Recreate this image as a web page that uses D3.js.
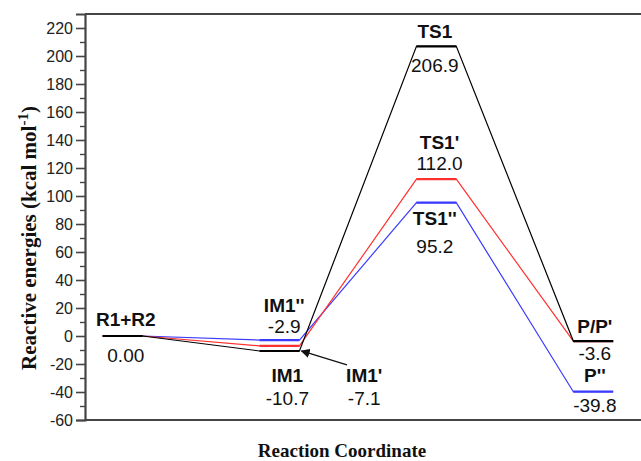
<!DOCTYPE html>
<html>
<head>
<meta charset="utf-8">
<script src="https://cdn.jsdelivr.net/npm/d3@7"></script>
<style>
  body { margin: 0; background: #fff; }
  text { font-family: "Liberation Sans", Arial, sans-serif; }
</style>
</head>
<body>
<script>
// stage index along the reaction coordinate: R1+R2, IM, TS, P
var stages = [0, 1, 2, 3];
var blackEnergies = [0, -10.7, 206.9, -3.6];
var redEnergies = [0, -7.1, 112.0, -3.6];
var blueEnergies = [0, -2.9, 95.2, -39.8];
var seriesColors = ["#3b3bff", "#ff3030", "#000000"];

var yTicks = [-60, -40, -20, 0, 20, 40, 60, 80, 100, 120, 140, 160, 180, 200, 220];
var yMinorTicks = [-50, -30, -10, 10, 30, 50, 70, 90, 110, 130, 150, 170, 190, 210];

var levelNames = ["R1+R2", "IM1''", "IM1", "IM1'", "TS1", "TS1'", "TS1''", "P/P'", "P''"];
var levelStages = [0, 1, 1, 1, 2, 2, 2, 3, 3];
var levelValues = [0, -2.9, -10.7, -7.1, 206.9, 112.0, 95.2, -3.6, -39.8];
var levelTexts = ["0.00", "-2.9", "-10.7", "-7.1", "206.9", "112.0", "95.2", "-3.6", "-39.8"];

function init() {
    var w = 641, h = 461;
    var halfLevel = 0.127;

    var svg = d3.select("body").append("svg")
        .attr("width", w)
        .attr("height", h);

    var x = d3.scaleLinear().domain([-0.24, 3.4]).range([85, 656]);
    var y = d3.scaleLinear().domain([-60, 230]).range([420, 14]);

    // frame (top and bottom)
    svg.append("line").attr("x1", 85).attr("x2", w).attr("y1", y(230)).attr("y2", y(230))
        .attr("stroke", "#444").attr("stroke-width", 2);
    svg.append("line").attr("x1", 85).attr("x2", w).attr("y1", y(-60)).attr("y2", y(-60))
        .attr("stroke", "#444").attr("stroke-width", 2);

    // y axis
    var yAxis = d3.axisLeft(y).tickValues(yTicks).tickSize(9).tickPadding(3)
        .tickFormat(function(d) { return String(d); });
    var ga = svg.append("g").attr("transform", "translate(85,0)").call(yAxis);
    ga.select(".domain").attr("stroke", "#444").attr("stroke-width", 2.2);
    ga.selectAll(".tick line").attr("stroke", "#444").attr("stroke-width", 1.6);
    ga.selectAll(".tick text").attr("font-size", 16)
        .attr("font-family", "Liberation Sans, Arial, sans-serif").attr("fill", "#222");
    svg.append("g").attr("transform", "translate(85,0)")
        .call(d3.axisLeft(y).tickValues(yMinorTicks).tickSize(5).tickFormat(""))
        .call(function(g) {
            g.select(".domain").remove();
            g.selectAll(".tick line").attr("stroke", "#444").attr("stroke-width", 1.4);
        });

    // series
    var allSeries = [blueEnergies, redEnergies, blackEnergies];
    var line = d3.line().x(function(d) { return x(d[0]); }).y(function(d) { return y(d[1]); });

    allSeries.forEach(function(vals, k) {
        var pts = [];
        stages.forEach(function(s, i) {
            pts.push([s - halfLevel, vals[i]]);
            pts.push([s + halfLevel, vals[i]]);
        });
        svg.append("path")
            .attr("d", line(pts))
            .attr("fill", "none")
            .attr("stroke", seriesColors[k])
            .attr("stroke-width", 1.2);
        svg.selectAll(null)
            .data(stages)
            .enter()
            .append("line")
            .attr("x1", function(s) { return x(s - halfLevel); })
            .attr("x2", function(s) { return x(s + halfLevel); })
            .attr("y1", function(s, i) { return y(vals[i]); })
            .attr("y2", function(s, i) { return y(vals[i]); })
            .attr("stroke", seriesColors[k])
            .attr("stroke-width", 2.2);
    });

    // label placement: stage offset (x units), name dy, value dy (px from level)
    var dxs = [0.02, 0.03, 0.05, 0.54, -0.01, 0.02, -0.01, 0.01, 0.01];
    var nameDy = [-10, -28, 31, 31, -8, -30, 22, -8, -10];
    var valDy = [26, -7, 54, 54, 26, -9, 50, 19, 20];

    levelNames.forEach(function(n, i) {
        var cx = x(levelStages[i] + dxs[i]);
        var cy = y(levelValues[i]);
        var ny = cy + nameDy[i], vy = cy + valDy[i];
        if (i == 3) { ny = y(levelValues[2]) + nameDy[i]; vy = y(levelValues[2]) + valDy[i]; }
        svg.append("text").attr("x", cx).attr("y", ny)
            .attr("text-anchor", "middle").attr("font-size", 19).attr("font-weight", "bold")
            .attr("fill", "#111").text(n);
        svg.append("text").attr("x", cx).attr("y", vy)
            .attr("text-anchor", "middle").attr("font-size", 19)
            .attr("fill", "#111").text(levelTexts[i]);
    });

    // arrow from IM1' label to its level
    svg.append("defs").append("marker")
        .attr("id", "arr").attr("viewBox", "0 0 10 10").attr("refX", 9).attr("refY", 5)
        .attr("markerWidth", 7).attr("markerHeight", 7).attr("orient", "auto")
        .append("path").attr("d", "M0,0L10,5L0,10z").attr("fill", "#111");
    svg.append("line")
        .attr("x1", x(1.43)).attr("y1", y(-7.1) + 19)
        .attr("x2", x(1 + halfLevel) + 2).attr("y2", y(-7.1) + 5)
        .attr("stroke", "#111").attr("stroke-width", 1.3)
        .attr("marker-end", "url(#arr)");

    // axis titles
    svg.append("text")
        .attr("x", 342).attr("y", 457)
        .attr("text-anchor", "middle")
        .style("font-family", "Liberation Serif, Times New Roman, serif")
        .attr("font-weight", "bold").attr("font-size", 19).attr("fill", "#111")
        .text("Reaction Coordinate");

    var yt = svg.append("text")
        .attr("transform", "translate(36,238) rotate(-90)")
        .attr("text-anchor", "middle")
        .style("font-family", "Liberation Serif, Times New Roman, serif")
        .attr("font-weight", "bold").attr("font-size", 21).attr("fill", "#111");
    yt.append("tspan").text("Reactive energies (kcal mol");
    yt.append("tspan").attr("dy", -8).attr("font-size", 15).text("-1");
    yt.append("tspan").attr("dy", 8).text(")");
}

window.onload = init;
</script>
</body>
</html>
